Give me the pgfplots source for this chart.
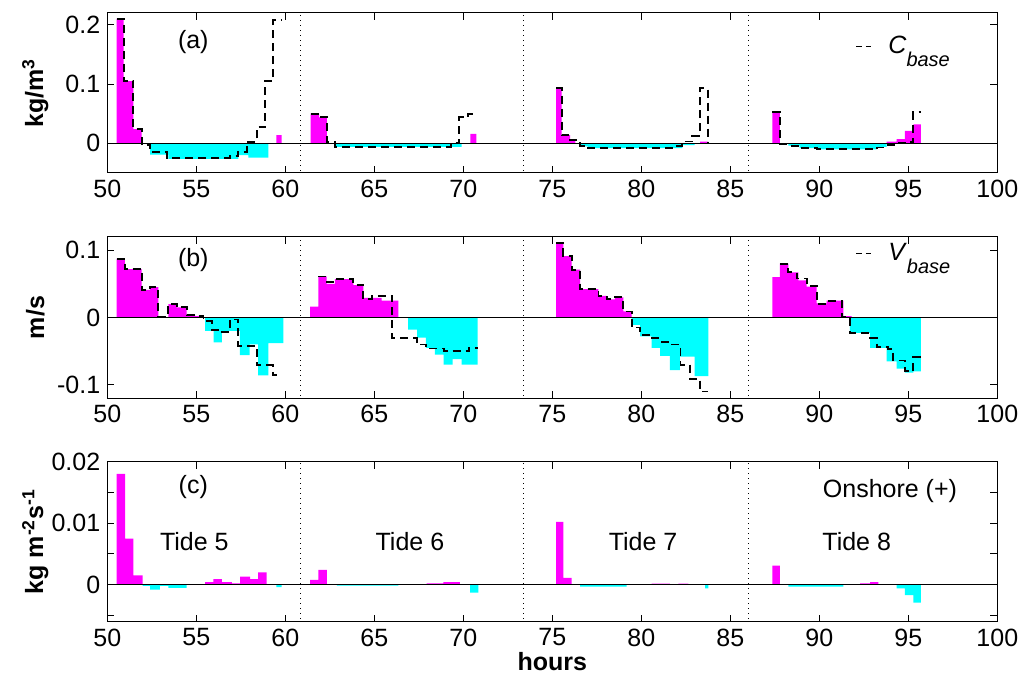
\documentclass[border=0pt]{standalone}
\usepackage{fontspec}
\setmainfont{Liberation Sans}
\usepackage{pgfplots}
\pgfplotsset{compat=1.18}
\definecolor{mag}{rgb}{1,0,1}
\definecolor{cya}{rgb}{0,1,1}
\newcommand{\fs}{\fontsize{12.5}{14}\selectfont}
\pgfplotsset{
  panel/.style={
    scale only axis, width=445pt,
    xmin=50, xmax=100, xtick={50,55,...,100},
    xticklabels={50,55,60,65,70,75,80,85,90,95,100},
    scaled x ticks=false, scaled y ticks=false,
    tick align=inside, major tick length=3.5pt,
    axis line style={line width=0.5pt},
    every tick/.style={line width=0.5pt, black},
    ticklabel style={font=\fs},
    /pgf/number format/assume math mode=true,
    ylabel style={font=\fs\bfseries, at={(axis description cs:-0.081,0.5)}, anchor=center},
    legend image code/.code={\draw[line width=0.9pt, dash pattern=on 2.8pt off 2pt] (0pt,0pt) -- (7.6pt,0pt);},
    legend style={draw=none, fill=none, font=\fs, inner sep=0pt, nodes={inner sep=0pt}},
  },
  pos/.style={fill=mag, draw=none, const plot, forget plot},
  neg/.style={fill=cya, draw=none, const plot, forget plot},
  base/.style={black, line width=0.9pt, dash pattern=on 4pt off 2.5pt, const plot},
  zl/.style={black, line width=0.5pt, forget plot},
  dl/.style={black, line width=0.5pt, dotted, forget plot},
}
\begin{document}
\begin{tikzpicture}
\useasboundingbox (0,0) rectangle (513pt,342pt);
% ---------------- panel (a)
\begin{axis}[panel, at={(53.65pt,255.5pt)}, anchor=south west, height=80pt,
  ymin=-0.05, ymax=0.22, ytick={0,0.1,0.2}, yticklabels={0,0.1,0.2},
  ylabel={kg/m\textsuperscript{3}},
  legend style={at={(0.84,0.79)}, anchor=west}]
\addplot[pos] coordinates {(50.53,0.21) (50.92,0.105) (51.46,0.024) (51.93,0) (59.5,0.014) (59.8,0)
  (61.42,0.05) (61.9,0.044) (62.34,0) (70.4,0.016) (70.74,0)
  (75.21,0.093) (75.53,0.014) (76.0,0.006) (76.3,0) (83.3,0.003) (83.74,0)
  (87.36,0.053) (87.79,0) (93.78,0.003) (94.34,0.007) (94.81,0.021) (95.28,0.032) (95.7,0)} \closedcycle;
\addplot[neg] coordinates {(52.4,-0.019) (53.43,-0.026) (57.36,-0.02) (57.92,-0.024) (59.05,0)
  (62.8,-0.006) (69.9,0)
  (76.57,-0.005) (77.0,-0.008) (82.3,-0.003) (83.0,0)
  (88.26,-0.004) (88.9,-0.008) (89.85,-0.01) (93.22,-0.006) (93.78,0)} \closedcycle;
\addplot[zl] coordinates {(50,0) (100,0)};
\addplot[dl] coordinates {(60.85,-1) (60.85,1)};
\addplot[dl] coordinates {(73.4,-1) (73.4,1)};
\addplot[dl] coordinates {(86.0,-1) (86.0,1)};
\addplot[base] coordinates {(50.53,0.21) (50.92,0.105) (51.46,0.024) (51.93,-0.003) (52.41,-0.015) (53.35,-0.025) (56.89,-0.022) (57.36,-0.014) (57.83,0.002) (58.39,0.027) (58.86,0.105) (59.33,0.208) (59.8,0.208)};
\addlegendentry{\hspace{8pt}\textit{C}\raisebox{-0.95ex}{\fontsize{10}{11}\selectfont\textit{base}}}
\addplot[base, forget plot] coordinates {(61.42,0.05) (61.93,0.044) (62.34,0.002) (62.8,-0.006) (69.32,0.0) (69.78,0.044) (70.28,0.05) (70.74,0.05)};
\addplot[base, forget plot] coordinates {(75.21,0.093) (75.53,0.014) (76.0,0.005) (76.57,-0.004) (77.0,-0.008) (81.81,-0.004) (82.28,0.003) (82.84,0.013) (83.31,0.093) (83.74,0.093) (83.74,0)};
\addplot[base, forget plot] coordinates {(87.36,0.053) (87.79,-0.002) (88.26,-0.004) (88.91,-0.008) (89.85,-0.01) (93.22,-0.007) (93.78,-0.003) (94.34,0.0) (94.81,0.002) (95.28,0.053) (95.7,0.053)};
\node[font=\fs] at (axis cs:54.83,0.171) {(a)};
\end{axis}
% ---------------- panel (b)
\begin{axis}[panel, at={(53.65pt,142.85pt)}, anchor=south west, height=80.8pt,
  ymin=-0.12, ymax=0.12, ytick={-0.1,0,0.1}, yticklabels={-0.1,0,0.1},
  ylabel={m/s},
  legend style={at={(0.84,0.896)}, anchor=west}]
\addplot[pos] coordinates {(50.53,0.087) (50.99,0.072) (51.93,0.041) (52.4,0.045) (52.87,0) (53.43,0.02) (53.9,0.015) (54.46,0.004) (54.93,0.002) (55.4,0)
  (61.39,0.016) (61.86,0.061) (62.32,0.05) (62.79,0.057) (63.82,0.048) (64.38,0.029) (65.41,0.025) (66.35,0)
  (75.21,0.111) (75.62,0.091) (76.09,0.071) (76.56,0.042) (77.59,0.032) (78.05,0.027) (78.52,0.03) (78.99,0.009) (79.46,0)
  (87.36,0.06) (87.79,0.08) (88.26,0.067) (88.82,0.055) (89.29,0.046) (89.85,0.021) (90.41,0.025) (91.35,0.002) (91.82,0)} \closedcycle;
\addplot[neg] coordinates {(55.5,-0.02) (55.97,-0.037) (56.43,-0.02) (57.45,-0.056) (58.0,-0.04) (58.48,-0.086) (59.05,-0.038) (59.89,0)
  (66.9,-0.018) (67.4,-0.03) (67.9,-0.045) (68.4,-0.055) (68.9,-0.07) (69.4,-0.062) (69.9,-0.07) (70.8,0)
  (79.46,-0.011) (79.93,-0.028) (80.58,-0.045) (81.05,-0.057) (81.61,-0.078) (82.17,-0.058) (82.99,-0.087) (83.77,0)
  (91.72,-0.023) (92.85,-0.045) (93.78,-0.065) (94.35,-0.076) (94.81,-0.082) (95.28,-0.08) (95.7,0)} \closedcycle;
\addplot[zl] coordinates {(50,0) (100,0)};
\addplot[dl] coordinates {(60.85,-1) (60.85,1)};
\addplot[dl] coordinates {(73.4,-1) (73.4,1)};
\addplot[dl] coordinates {(86.0,-1) (86.0,1)};
\addplot[base] coordinates {(50.53,0.087) (50.99,0.072) (51.93,0.041) (52.4,0.045) (52.87,0.0015) (53.43,0.02) (53.9,0.015) (54.46,0.004) (54.93,0.0025) (55.4,-0.005) (55.86,-0.018) (56.33,-0.022) (56.89,-0.003) (57.36,-0.042) (58.39,-0.071) (59.3,-0.086) (59.8,-0.086)};
\addlegendentry{\hspace{8pt}\textit{V}\raisebox{-0.95ex}{\fontsize{10}{11}\selectfont\textit{base}}}
\addplot[base, forget plot] coordinates {(61.86,0.061) (62.32,0.053) (62.79,0.057) (63.82,0.0485) (64.38,0.027) (64.86,0.032) (66.01,-0.031) (67.4,-0.04) (67.9,-0.046) (68.9,-0.05) (70.3,-0.045) (70.8,-0.045)};
\addplot[base, forget plot] coordinates {(75.21,0.111) (75.62,0.091) (76.09,0.071) (76.56,0.042) (77.59,0.032) (78.05,0.027) (78.52,0.03) (78.99,0.009) (79.46,-0.015) (79.93,-0.026) (80.49,-0.031) (81.05,-0.036) (81.6,-0.04) (82.2,-0.07) (82.74,-0.091) (83.3,-0.11) (83.77,-0.11)};
\addplot[base, forget plot] coordinates {(87.79,0.08) (88.26,0.067) (88.73,0.058) (89.29,0.047) (89.85,0.02) (90.32,0.024) (91.26,0.001) (91.72,-0.023) (92.85,-0.03) (93.22,-0.044) (93.88,-0.047) (94.16,-0.064) (94.81,-0.08) (95.28,-0.059) (95.7,-0.059)};
\node[font=\fs] at (axis cs:54.83,0.0855) {(b)};
\end{axis}
% ---------------- panel (c)
\begin{axis}[panel, at={(53.65pt,31.15pt)}, anchor=south west, height=80pt,
  ymin=-0.006, ymax=0.02, ytick={-0.005,0,0.005,0.01,0.015,0.02}, yticklabels={,0,,0.01,,0.02},
  ylabel={kg m\textsuperscript{-2}s\textsuperscript{-1}},
  xlabel={hours}, xlabel style={font=\fs\bfseries, at={(axis description cs:0.5,-0.25)}, anchor=center}]
\addplot[pos] coordinates {(50.53,0.018) (51.0,0.0075) (51.46,0.0015) (51.99,0) (55.49,0.0004) (55.96,0.0009) (56.43,0.0004) (57.0,0.0002) (57.46,0.0013) (58.02,0.0009) (58.48,0.002) (58.95,0)
  (61.39,0.0008) (61.86,0.0024) (62.33,0) (67.94,0.0002) (68.88,0.0004) (69.81,0)
  (75.21,0.0102) (75.62,0.0011) (76.09,0) (80.58,0.00016) (81.61,0) (82.08,0.00016) (82.64,0)
  (87.36,0.0031) (87.79,0) (92.29,0.0002) (92.85,0.0004) (93.32,0)} \closedcycle;
\addplot[neg] coordinates {(51.99,-0.0002) (52.4,-0.0008) (52.96,-0.0002) (53.43,-0.0005) (54.46,0) (59.5,-0.0004) (59.8,0)
  (62.9,-0.00015) (66.35,0) (70.38,-0.0013) (70.85,0)
  (76.56,-0.0003) (79.18,0) (83.58,-0.0006) (83.77,0)
  (88.26,-0.0003) (91.35,0) (94.35,-0.0006) (94.81,-0.0017) (95.28,-0.0029) (95.7,0)} \closedcycle;
\addplot[zl] coordinates {(50,0) (100,0)};
\addplot[dl] coordinates {(60.85,-1) (60.85,1)};
\addplot[dl] coordinates {(73.4,-1) (73.4,1)};
\addplot[dl] coordinates {(86.0,-1) (86.0,1)};
\node[font=\fs] at (axis cs:54.83,0.0158) {(c)};
\node[font=\fs] at (axis cs:54.89,0.00705) {Tide 5};
\node[font=\fs] at (axis cs:67.0,0.00705) {Tide 6};
\node[font=\fs] at (axis cs:80.1,0.00705) {Tide 7};
\node[font=\fs] at (axis cs:92.1,0.00705) {Tide 8};
\node[font=\fs] at (axis cs:93.97,0.01525) {Onshore (+)};
\end{axis}
\end{tikzpicture}
\end{document}
